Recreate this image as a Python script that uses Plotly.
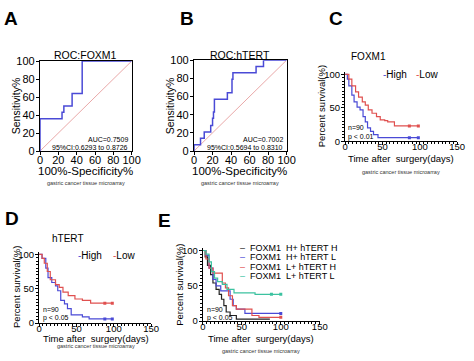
import plotly.graph_objects as go

W, H = 474, 361
FONT = "Arial, 'Liberation Sans', sans-serif"

# ---------------- data ----------------
# ROC curves (100% - specificity, sensitivity)
roc_foxm1_x = [0, 0, 24, 26, 35, 46, 100]
roc_foxm1_y = [0, 36, 43, 50, 64, 100, 100]
roc_htert_x = [0, 0, 7, 11, 18, 20, 21, 22, 36, 41, 42, 67, 75, 100]
roc_htert_y = [0, 7, 14, 21, 28, 36, 43, 57, 64, 79, 86, 93, 100, 100]
roc_ref = [0, 100]
roc_titles = ["ROC:FOXM1", "ROC:hTERT"]
roc_auc = ["AUC=0.7509", "AUC=0.7002"]
roc_ci = ["95%CI:0.6293 to 0.8726", "95%CI:0.5694 to 0.8310"]

# Kaplan-Meier curves: FOXM1 (panel C)
c_high_t = [0, 3, 5, 9, 12, 16, 20, 24, 27, 30, 34, 38, 44, 98]
c_high_s = [100, 93, 83, 69, 59, 51, 47, 37, 29, 20, 15, 10, 5.5, 5.5]
c_low_t = [0, 5, 9, 14, 18, 23, 27, 31, 36, 42, 47, 53, 57, 66, 98]
c_low_s = [100, 93, 83, 74, 66, 59, 54, 47, 42, 37, 32, 31, 29, 23, 23]
c_cens_t = [86, 98]

# hTERT (panel D)
d_high_t = [0, 4, 9, 12, 17, 22, 25, 29, 34, 38, 43, 58, 67, 99]
d_high_s = [100, 94, 80, 66, 59, 54, 47, 33, 28, 21, 12, 9, 6, 6]
d_low_t = [0, 4, 7, 11, 15, 22, 27, 32, 39, 48, 58, 69, 98]
d_low_s = [100, 94, 87, 75, 63, 56, 52, 45, 40, 35, 33, 29, 29]
d_cens_t = [88, 98]

# combined (panel E)
e_hh_t = [0, 3, 6, 10, 13, 17, 21, 24, 27, 30, 35, 43, 86]
e_hh_s = [100, 91, 79, 66, 54, 45, 38, 31, 22, 13, 8, 3, 3]
e_hl_t = [0, 4, 8, 13, 17, 23, 35, 39, 43, 54, 100]
e_hl_s = [100, 93, 75, 59, 50, 43, 31, 22, 17, 11, 11]
e_lh_t = [0, 4, 8, 13, 25, 29, 33, 38, 43, 63, 72, 100]
e_lh_s = [100, 88, 75, 68, 54, 47, 36, 22, 17, 8, 5.5, 5.5]
e_ll_t = [0, 4, 8, 11, 15, 19, 25, 31, 40, 67, 100]
e_ll_s = [100, 95, 84, 70, 61, 56, 52, 45, 40, 38, 38]
e_cens_t = [88, 100]

km_groups = ["High", "Low"]
e_groups = ["FOXM1  H+ hTERT H", "FOXM1  H+ hTERT L", "FOXM1  L+ hTERT H", "FOXM1  L+ hTERT L"]
km_titles = ["FOXM1", "hTERT"]
km_stats = [("n=90", "p < 0.01"), ("n=90", "p < 0.05"), ("n=90", "p < 0.05")]
km_xticks = [0, 50, 100, 150]
km_yticks = [0, 50, 100]
roc_ticks = [0, 20, 40, 60, 80, 100]

BLUE = "#4a4ad6"
RED = "#e0504f"
BLACK = "#222222"
TEAL = "#3cc2a0"
PINK = "#e9a8a8"

# ---------------- layout helpers ----------------
def px_x(x):
    return x / W

def px_y(y):
    return 1 - y / H

fig = go.Figure()

def add_roc(xs, ys, ax):
    fig.add_trace(go.Scatter(x=roc_ref, y=roc_ref, mode="lines",
                             line=dict(color=PINK, width=1),
                             xaxis="x" + ax, yaxis="y" + ax, showlegend=False, hoverinfo="skip"))
    fig.add_trace(go.Scatter(x=xs, y=ys, mode="lines", line_shape="hv",
                             line=dict(color=BLUE, width=1.5),
                             xaxis="x" + ax, yaxis="y" + ax, showlegend=False))

def add_km(ts, ss, color, ax, cens=None):
    fig.add_trace(go.Scatter(x=ts, y=ss, mode="lines", line_shape="hv",
                             line=dict(color=color, width=1.2),
                             xaxis="x" + ax, yaxis="y" + ax, showlegend=False))
    if cens:
        # censor marks placed on the last survival level
        fig.add_trace(go.Scatter(x=cens, y=[ss[-1]] * len(cens), mode="markers",
                                 marker=dict(symbol="square", size=3, color=color),
                                 xaxis="x" + ax, yaxis="y" + ax, showlegend=False))

add_roc(roc_foxm1_x, roc_foxm1_y, "")
add_roc(roc_htert_x, roc_htert_y, "2")
add_km(c_high_t, c_high_s, BLUE, "3", c_cens_t)
add_km(c_low_t, c_low_s, RED, "3", c_cens_t)
add_km(d_high_t, d_high_s, BLUE, "4", d_cens_t)
add_km(d_low_t, d_low_s, RED, "4", d_cens_t)
add_km(e_hh_t, e_hh_s, BLACK, "5")
add_km(e_hl_t, e_hl_s, BLUE, "5", e_cens_t[1:])
add_km(e_lh_t, e_lh_s, RED, "5", e_cens_t[1:])
add_km(e_ll_t, e_ll_s, TEAL, "5", e_cens_t)

tickfont = dict(family=FONT, size=11, color="black")
kmtickfont = dict(family=FONT, size=9.5, color="black")

def roc_axes(x0, x1, y0, y1, anchor_x, anchor_y):
    xa = dict(domain=[px_x(x0), px_x(x1)], range=[0, 100], tickvals=roc_ticks,
              ticks="outside", ticklen=3, tickwidth=1, tickcolor="black",
              showline=True, linecolor="black", linewidth=1.3, mirror=True,
              showgrid=False, zeroline=False, tickfont=tickfont, anchor=anchor_y,
              ticklabelstandoff=-4)
    ya = dict(domain=[px_y(y1), px_y(y0)], range=[0, 100], tickvals=roc_ticks,
              ticks="outside", ticklen=3, tickwidth=1, tickcolor="black",
              showline=True, linecolor="black", linewidth=1.3, mirror=True,
              showgrid=False, zeroline=False, tickfont=tickfont, anchor=anchor_x,
              ticklabelstandoff=-1)
    return xa, ya

def km_axes(x0, x1, y0, y1, anchor_x, anchor_y):
    minor = dict(ticks="outside", dtick=5, ticklen=2, tickwidth=0.8, tickcolor="black")
    xa = dict(domain=[px_x(x0), px_x(x1)], range=[0, 150], tickvals=km_xticks,
              ticks="outside", ticklen=3, tickwidth=1, tickcolor="black",
              showline=True, linecolor="black", linewidth=1.2,
              showgrid=False, zeroline=False, tickfont=kmtickfont, anchor=anchor_y,
              minor=minor, ticklabelstandoff=-7)
    ya = dict(domain=[px_y(y1), px_y(y0)], range=[0, 104], tickvals=km_yticks,
              ticks="outside", ticklen=3, tickwidth=1, tickcolor="black",
              showline=True, linecolor="black", linewidth=1.2,
              showgrid=False, zeroline=False, tickfont=kmtickfont, anchor=anchor_x,
              minor=minor, ticklabelstandoff=-1)
    return xa, ya

xa1, ya1 = roc_axes(38, 132, 57, 150, "x", "y")
xa2, ya2 = roc_axes(196, 291, 56, 150, "x2", "y2")
xa3, ya3 = km_axes(351, 466, 68, 140, "x3", "y3")
xa4, ya4 = km_axes(37, 152, 254, 328, "x4", "y4")
xa5, ya5 = km_axes(205, 325, 250, 326, "x5", "y5")

ann = []

def text(x, y, s, size=10, xanchor="center", angle=0, bold=False, color="black"):
    ann.append(dict(x=px_x(x), y=px_y(y), xref="paper", yref="paper",
                    text=("<b>%s</b>" % s) if bold else s, showarrow=False,
                    xanchor=xanchor, yanchor="middle", textangle=angle,
                    font=dict(family=FONT, size=size, color=color)))

# panel letters
for letter, lx, ly in [("A", 8, 13), ("B", 189, 13), ("C", 342, 13), ("D", 9, 220), ("E", 166, 222)]:
    text(lx, ly, letter, size=19, bold=True)

# ROC annotations
for i, (cx, ylab_x) in enumerate([(85, 13), (243, 171)]):
    text(cx, 51, roc_titles[i], size=10.5)
    text(ylab_x, 103, "Sensitivity%", size=10.5, angle=-90)
    text(cx, 171, "100%-Specificity%", size=11.5)
    text(cx, 183, "gastric cancer tissue microarray", size=5.5, color="#333")
right_edges = [130, 289]
for i in range(2):
    text(right_edges[i], 138, roc_auc[i], size=7, xanchor="right")
    text(right_edges[i], 146, roc_ci[i], size=7, xanchor="right")

# KM annotations
text(375, 52, km_titles[0], size=10)
text(67, 240, km_titles[1], size=10)
for (yx, yy) in [(327, 104), (14, 291), (181, 288)]:
    text(yx, yy, "Percent survival(%)", size=9.5, angle=-90)
for (xx, xy, gy) in [(408, 158, 172), (95, 344, 352), (265, 344, 357)]:
    text(xx, xy, "Time after  surgery(days)", size=9.5)
    text(xx, gy, "gastric cancer tissue microarray", size=5.5, color="#333")
for (sx, sy), st in zip([(352, 126), (39, 314), (207, 314)], km_stats):
    text(sx, sy, st[0], size=7, xanchor="left")
    text(sx, sy + 9, st[1], size=7, xanchor="left")

# legends
def leg(x, y, color, label, size=10):
    ann.append(dict(x=px_x(x), y=px_y(y), xref="paper", yref="paper",
                    text="<span style='color:%s'>-</span>%s" % (color, label),
                    showarrow=False, xanchor="left", yanchor="middle",
                    font=dict(family=FONT, size=size, color="black")))

leg(388, 71, BLUE, km_groups[0])
leg(422, 71, RED, km_groups[1])
leg(75, 258, BLUE, km_groups[0])
leg(111, 258, RED, km_groups[1])
for lab, col, yy in zip(e_groups, [BLACK, BLUE, RED, TEAL], [250, 259.5, 269.5, 279]):
    ann.append(dict(x=px_x(241), y=px_y(yy), xref="paper", yref="paper",
                    text="<span style='color:%s'>–</span>  %s" % (col, lab),
                    showarrow=False, xanchor="left", yanchor="middle",
                    font=dict(family=FONT, size=9, color="black")))

fig.update_layout(
    width=W, height=H, autosize=False,
    margin=dict(l=0, r=0, t=0, b=0),
    paper_bgcolor="white", plot_bgcolor="white",
    showlegend=False,
    xaxis=xa1, yaxis=ya1, xaxis2=xa2, yaxis2=ya2,
    xaxis3=xa3, yaxis3=ya3, xaxis4=xa4, yaxis4=ya4,
    xaxis5=xa5, yaxis5=ya5,
    annotations=ann,
)

fig.write_html("out.html", config={"displayModeBar": False},
               post_script="document.body.style.margin='0';document.body.style.overflow='hidden';")
